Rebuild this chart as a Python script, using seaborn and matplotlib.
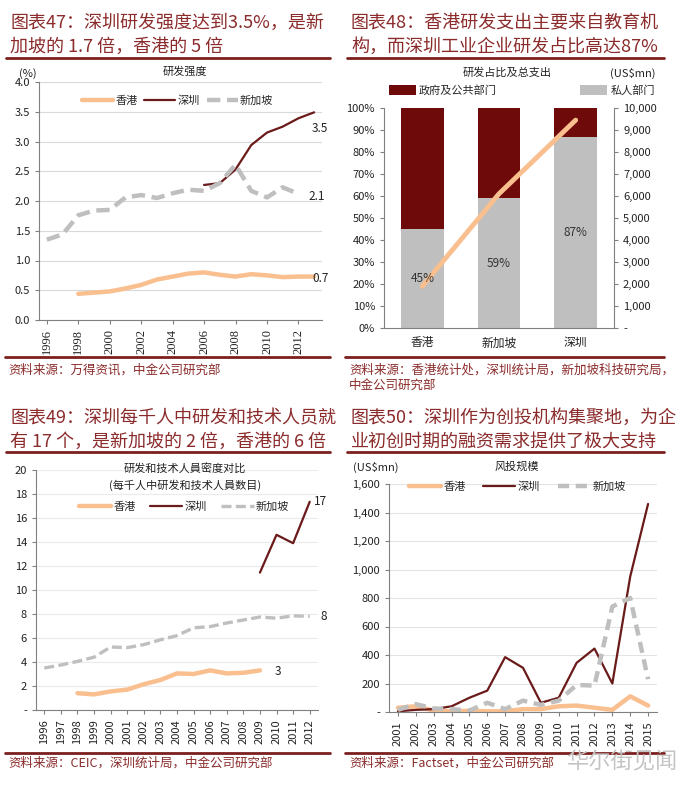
import numpy as np
import matplotlib.pyplot as plt
from matplotlib.lines import Line2D
from matplotlib.ticker import FuncFormatter
import seaborn as sns

nan = np.nan

# Chart 47: R&D intensity (%)
rd_years = list(range(1996, 2014))
rd_hk = [nan, nan, 0.44, 0.46, 0.48, 0.53, 0.59, 0.68, 0.73, 0.78, 0.80, 0.76, 0.73, 0.77, 0.75, 0.72, 0.73, 0.73]
rd_sz = [nan] * 10 + [2.27, 2.30, 2.53, 2.94, 3.15, 3.25, 3.39, 3.49]
rd_sg = [1.35, 1.44, 1.76, 1.84, 1.85, 2.06, 2.10, 2.05, 2.13, 2.19, 2.17, 2.30, 2.61, 2.17, 2.06, 2.23, 2.12, nan]

# Chart 48: R&D share by sector and total spend
cities = ['香港', '新加坡', '深圳']
private_share = [45, 59, 87]
gov_share = [100 - p for p in private_share]
rd_spend = [1900, 6100, 9450]

# Chart 49: R&D staff per thousand people
staff_years = list(range(1996, 2013))
staff_hk = [nan, nan, 1.4, 1.3, 1.55, 1.7, 2.15, 2.5, 3.05, 3.0, 3.3, 3.05, 3.1, 3.3, nan, nan, nan]
staff_sz = [nan] * 13 + [11.45, 14.6, 13.9, 17.35]
staff_sg = [3.5, 3.75, 4.05, 4.4, 5.25, 5.2, 5.45, 5.85, 6.2, 6.85, 6.95, 7.25, 7.5, 7.75, 7.65, 7.85, 7.8]

# Chart 50: venture capital (US$mn)
vc_years = list(range(2001, 2016))
vc_hk = [30, 40, 10, 5, 8, 5, 5, 20, 20, 40, 45, 30, 15, 110, 45]
vc_sz = [5, 15, 20, 40, 100, 150, 385, 310, 65, 100, 345, 445, 200, 950, 1460]
vc_sg = [15, 55, 25, 20, 10, 65, 20, 80, 50, 80, 190, 185, 740, 800, 230]

W, H = 694, 785
DARK_RED = '#6E0A0A'
SZ_LINE = '#6B1A1A'
ORANGE = '#F9BF8F'
GREY = '#BFBFBF'
TITLE = '#8B2B2B'
RULE = '#7B1F1F'


def fig_box(l, t, r, b):
    return [l / W, 1 - b / H, (r - l) / W, (b - t) / H]


def fig_xy(x, y):
    return x / W, 1 - y / H


def add_rule(fig, x0, x1, y):
    fig.add_artist(Line2D([x0 / W, x1 / W], [1 - y / H, 1 - y / H],
                          transform=fig.transFigure, color=RULE, lw=2))


def panel_header(fig, x, y, lines, x1, rule_y):
    for i, line in enumerate(lines):
        fig.text(*fig_xy(x, y + i * 24), line, fontsize=13, color=TITLE,
                 ha='left', va='center')
    add_rule(fig, x - 4, x1, rule_y)


def style_line_axes(ax):
    ax.grid(axis='y', color='#D9D9D9', lw=0.8)
    ax.grid(axis='x', visible=False)
    ax.set_axisbelow(True)
    for side in ['top', 'right']:
        ax.spines[side].set_visible(False)
    for side in ['left', 'bottom']:
        ax.spines[side].set_color('#808080')
        ax.spines[side].set_linewidth(0.8)
    ax.tick_params(axis='both', bottom=True, left=True, length=3, color='#808080',
                   labelsize=8, labelcolor='#222222')
    ax.set_xlabel('')
    ax.set_ylabel('')


def three_lines(ax, x, hk, sz, sg, hk_lw, sg_lw, dash):
    sns.lineplot(x=x, y=hk, ax=ax, color=ORANGE, lw=hk_lw, label='香港')
    sns.lineplot(x=x, y=sz, ax=ax, color=SZ_LINE, lw=1.6, label='深圳')
    sns.lineplot(x=x, y=sg, ax=ax, color=GREY, lw=sg_lw, linestyle=(0, dash), label='新加坡')


def end_label(ax, xs, ys, text, dx, dy):
    pairs = [(a, b) for a, b in zip(xs, ys) if not np.isnan(b)]
    ax.annotate(text, xy=pairs[-1], xytext=(dx, dy), textcoords='offset pixels',
                fontsize=8.5, color='#222222', ha='left', va='center')


sns.set_style('white')
plt.rcParams['font.family'] = ['Noto Sans CJK SC', 'DejaVu Sans']
plt.rcParams['axes.unicode_minus'] = False

fig = plt.figure(figsize=(W / 100, H / 100), dpi=100)
fig.patch.set_facecolor('white')

dash_fmt = FuncFormatter(lambda v, p: '-' if v == 0 else f'{v:,.0f}')

# ---------------- Chart 47 ----------------
panel_header(fig, 10, 23, ['图表47：深圳研发强度达到3.5%，是新', '加坡的 1.7 倍，香港的 5 倍'], 330, 58)
ax1 = fig.add_axes(fig_box(39, 82, 322, 320))
three_lines(ax1, rd_years, rd_hk, rd_sz, rd_sg, 3.2, 3.2, (3, 1.5))
ax1.set_xlim(1995.5, 2013.5)
ax1.set_ylim(0, 4)
ax1.set_yticks(np.arange(0, 4.01, 0.5))
ax1.yaxis.set_major_formatter(FuncFormatter(lambda v, p: f'{v:.1f}'))
ax1.set_xticks(range(1996, 2013, 2))
style_line_axes(ax1)
for lab in ax1.get_xticklabels():
    lab.set_rotation(90)
    lab.set_family('Liberation Serif')
    lab.set_fontsize(9)
ax1.legend(loc='center', bbox_to_anchor=(0.49, 0.92), ncol=3, frameon=False,
           fontsize=8, handlelength=2.8, columnspacing=0.6, handletextpad=0.2)
end_label(ax1, rd_years, rd_sz, '3.5', -2, -16)
end_label(ax1, rd_years, rd_sg, '2.1', 10, -3)
end_label(ax1, rd_years, rd_hk, '0.7', -2, -2)
fig.text(*fig_xy(185, 72), '研发强度', fontsize=8, ha='center', va='center', color='#222222')
fig.text(*fig_xy(28, 74), '(%)', fontsize=8, ha='center', va='center', color='#222222')
add_rule(fig, 5, 330, 357)
fig.text(*fig_xy(8, 370), '资料来源：万得资讯，中金公司研究部', fontsize=9, color=TITLE,
         ha='left', va='center')

# ---------------- Chart 48 ----------------
panel_header(fig, 351, 23, ['图表48：香港研发支出主要来自教育机', '构，而深圳工业企业研发占比高达87%'], 664, 58)
ax2 = fig.add_axes(fig_box(384, 108, 614, 328))
total_share = [p + g for p, g in zip(private_share, gov_share)]
sns.barplot(x=cities, y=total_share, ax=ax2, color=DARK_RED, saturation=1, width=0.56,
            linewidth=0, errorbar=None, label='政府及公共部门')
sns.barplot(x=cities, y=private_share, ax=ax2, color=GREY, saturation=1, width=0.56,
            linewidth=0, errorbar=None, label='私人部门')
ax2.set_ylim(0, 100)
ax2.set_yticks(range(0, 101, 10))
ax2.yaxis.set_major_formatter(FuncFormatter(lambda v, p: f'{v:.0f}%'))
ax2.set_xlim(-0.5, 2.5)
ax2.set_xlabel('')
ax2.set_ylabel('')
for side in ['top', 'right']:
    ax2.spines[side].set_visible(False)
for side in ['left', 'bottom']:
    ax2.spines[side].set_color('#808080')
    ax2.spines[side].set_linewidth(0.8)
ax2.tick_params(axis='both', bottom=True, left=True, length=3, color='#808080',
                labelsize=8, labelcolor='#222222')
ax2.tick_params(axis='x', length=0, labelsize=8.5, pad=6)
ax2.legend(loc='center', bbox_to_anchor=(0.6, 1.08), ncol=2, frameon=False, fontsize=8,
           handlelength=2.4, handleheight=0.9, columnspacing=7.5, handletextpad=0.3)

ax2r = ax2.twinx()
sns.lineplot(x=np.arange(len(cities)), y=rd_spend, ax=ax2r, color=ORANGE, lw=3.5)
ax2r.set_ylim(0, 10000)
ax2r.set_yticks(range(0, 10001, 1000))
ax2r.yaxis.set_major_formatter(dash_fmt)
for side in ['top', 'left', 'bottom']:
    ax2r.spines[side].set_visible(False)
ax2r.spines['right'].set_color('#808080')
ax2r.spines['right'].set_linewidth(0.8)
ax2r.tick_params(axis='y', right=True, length=3, color='#808080', labelsize=8, labelcolor='#222222')
ax2r.set_ylabel('')
for i, p in enumerate(private_share):
    ax2r.text(i, p / 2, f'{p}%', transform=ax2.transData, ha='center', va='center',
              fontsize=8.5, color='#333333')
fig.text(*fig_xy(507, 73), '研发占比及总支出', fontsize=8, ha='center', va='center', color='#222222')
fig.text(*fig_xy(633, 73), '(US$mn)', fontsize=8, ha='center', va='center', color='#222222')
add_rule(fig, 345, 664, 357)
fig.text(*fig_xy(349, 370), '资料来源：香港统计处，深圳统计局，新加坡科技研究局，', fontsize=9,
         color=TITLE, ha='left', va='center')
fig.text(*fig_xy(349, 385), '中金公司研究部', fontsize=9, color=TITLE, ha='left', va='center')

# ---------------- Chart 49 ----------------
panel_header(fig, 10, 418, ['图表49：深圳每千人中研发和技术人员就', '有 17 个，是新加坡的 2 倍，香港的 6 倍'], 330, 452)
ax3 = fig.add_axes(fig_box(36, 470, 318, 710))
three_lines(ax3, staff_years, staff_hk, staff_sz, staff_sg, 3.2, 2.4, (3, 1.3))
ax3.set_xlim(1995.5, 2012.5)
ax3.set_ylim(0, 20)
ax3.set_yticks(range(0, 21, 2))
ax3.yaxis.set_major_formatter(dash_fmt)
ax3.set_xticks(staff_years)
style_line_axes(ax3)
ax3.grid(axis='y', color='#EBEBEB', lw=0.8)
for lab in ax3.get_xticklabels():
    lab.set_rotation(90)
ax3.legend(loc='center', bbox_to_anchor=(0.525, 0.846), ncol=3, frameon=False,
           fontsize=8, handlelength=2.9, columnspacing=1.3, handletextpad=0.2)
end_label(ax3, staff_years, staff_sz, '17', 4, 0)
end_label(ax3, staff_years, staff_sg, '8', 11, 0)
end_label(ax3, staff_years, staff_hk, '3', 15, -1)
fig.text(*fig_xy(185, 469), '研发和技术人員密度对比', fontsize=8, ha='center', va='center', color='#222222')
fig.text(*fig_xy(185, 485), '(每千人中研发和技术人員数目)', fontsize=8, ha='center', va='center', color='#222222')
add_rule(fig, 5, 330, 753)
fig.text(*fig_xy(8, 763), '资料来源：CEIC，深圳统计局，中金公司研究部', fontsize=9, color=TITLE,
         ha='left', va='center')

# ---------------- Chart 50 ----------------
panel_header(fig, 351, 418, ['图表50：深圳作为创投机构集聚地，为企', '业初创时期的融资需求提供了极大支持'], 664, 452)
ax4 = fig.add_axes(fig_box(389, 484, 657, 712))
three_lines(ax4, vc_years, vc_hk, vc_sz, vc_sg, 3.2, 3.2, (2.5, 1.5))
ax4.set_xlim(2000.5, 2015.5)
ax4.set_ylim(0, 1600)
ax4.set_yticks(range(0, 1601, 200))
ax4.yaxis.set_major_formatter(dash_fmt)
ax4.set_xticks(vc_years)
style_line_axes(ax4)
ax4.grid(axis='y', color='#E3E3E3', lw=0.8)
for lab in ax4.get_xticklabels():
    lab.set_rotation(90)
ax4.legend(loc='center', bbox_to_anchor=(0.478, 0.99), ncol=3, frameon=False,
           fontsize=8, handlelength=2.9, columnspacing=1.6, handletextpad=0.2)
fig.text(*fig_xy(376, 467), '(US$mn)', fontsize=8, ha='center', va='center', color='#222222')
fig.text(*fig_xy(517, 467), '风投规模', fontsize=8, ha='center', va='center', color='#222222')
add_rule(fig, 345, 664, 753)
fig.text(*fig_xy(349, 763), '资料来源：Factset，中金公司研究部', fontsize=9, color=TITLE,
         ha='left', va='center')
fig.text(*fig_xy(566, 762), '华尔街见闻', fontsize=16, color='#C4C4C4', ha='left', va='center')

fig.savefig('out.png', dpi=100, facecolor='white')
